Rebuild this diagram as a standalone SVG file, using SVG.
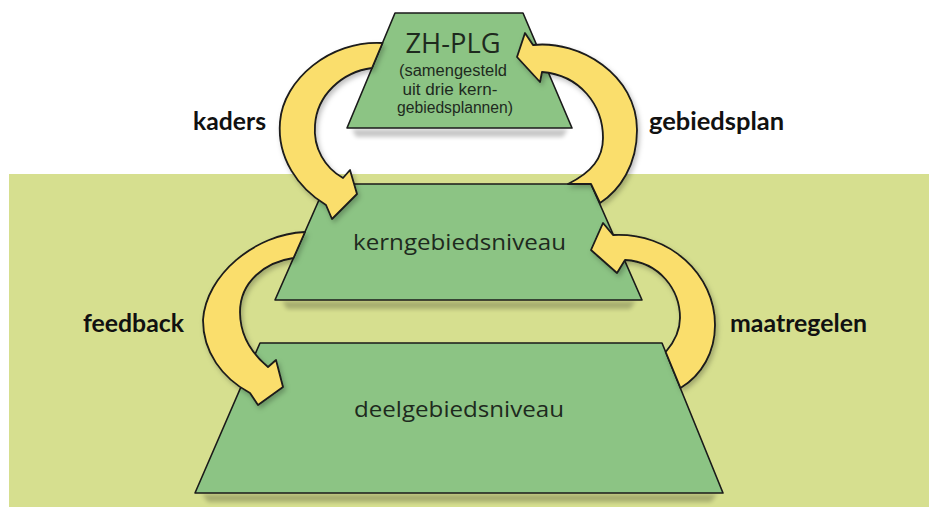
<svg xmlns="http://www.w3.org/2000/svg" width="929" height="507" viewBox="0 0 929 507">
  <defs>
    <filter id="blur" x="-20%" y="-50%" width="140%" height="200%">
      <feGaussianBlur stdDeviation="2"/>
    </filter>
    <filter id="ashadow" x="-20%" y="-20%" width="140%" height="140%">
      <feDropShadow dx="2" dy="3" stdDeviation="2.5" flood-color="#000" flood-opacity="0.25"/>
    </filter>
  </defs>
  <style>
    .trap { fill: #8cc484; stroke: #1a1a1a; stroke-width: 1.6; stroke-linejoin: round; }
    .shadow { fill: #000; opacity: 0.22; filter: url(#blur); }
    .arrow { fill: #fade6c; stroke: #1a1a1a; stroke-width: 1.8; stroke-linejoin: round; filter: url(#ashadow); }
    .lvl { font-family: "Open Sans", "DejaVu Sans", sans-serif; fill: #1e2a1e; text-anchor: middle; }
    .sub { font-family: "Liberation Sans", Arial, sans-serif; font-size: 16px; fill: #1e2a1e; text-anchor: middle; }
    .lbl { font-family: Lato, "Open Sans", sans-serif; font-weight: bold; font-size: 25px; fill: #111; }
  </style>

  <rect width="929" height="507" fill="#ffffff"/>
  <rect x="9" y="174" width="920" height="333" fill="#d6df8f"/>

  <g id="node-zhplg">
    <polygon class="shadow" points="352,129 568,129 563,137 356,137"/>
    <polygon class="trap" points="395,13 523,13 572,128 347,128"/>
    <text class="lvl" x="453" y="53" font-size="28" textLength="95" lengthAdjust="spacingAndGlyphs">ZH-PLG</text>
    <text class="sub" x="453" y="76" textLength="108" lengthAdjust="spacingAndGlyphs">(samengesteld</text>
    <text class="sub" x="450" y="94.5" textLength="95" lengthAdjust="spacingAndGlyphs">uit drie kern-</text>
    <text class="sub" x="455" y="113" textLength="116" lengthAdjust="spacingAndGlyphs">gebiedsplannen)</text>
  </g>

  <g id="node-kern">
    <polygon class="shadow" points="282,301 636,301 630,309 287,309"/>
    <polygon class="trap" points="326,184 591,184 642,300 275,300"/>
    <text class="lvl" x="459.5" y="250" font-size="22.5" textLength="213" lengthAdjust="spacingAndGlyphs">kerngebiedsniveau</text>
  </g>

  <g id="node-deel">
    <polygon class="shadow" points="202,494 717,494 711,502 208,502"/>
    <polygon class="trap" points="260,343 662,343 723,493 195,493"/>
    <text class="lvl" x="459" y="417" font-size="22.5" textLength="210" lengthAdjust="spacingAndGlyphs">deelgebiedsniveau</text>
  </g>

  <g id="connectors">
    <path id="arrow-kaders" class="arrow" d="M 382.5,43 C 330,40 283,80 280,122 C 277,158 298,188 326,205 L 332,219 L 357,194 L 350,170 L 343,178 C 325,168 313,148 315,125 C 317,95 342,72 372,68 Z"/>
    <path id="arrow-gebiedsplan" class="arrow" d="M 517,57 L 525,33 L 533,45 C 580,40 637,75 637,130 C 637,165 620,190 600,203 L 591,184 L 568,184 C 592,172 603,158 603,138 C 603,105 580,75 542,72 L 540,82 Z"/>
    <path id="arrow-feedback" class="arrow" d="M 305,232 C 255,234 206,275 203,320 C 203,352 222,378 250,393 L 258,405 L 283,387 L 276,360 L 268,367 C 250,352 240,333 240,312 C 240,282 265,262 293.5,258 Z"/>
    <path id="arrow-maatregelen" class="arrow" d="M 591,250 L 603,223 L 613,235 C 670,232 715,275 715,325 C 715,352 702,375 680.5,388 L 665.7,352 C 676,340 680,330 680,318 C 680,290 660,262 625,260 L 617,273 Z"/>
    <text class="lbl" x="193" y="130" textLength="73" lengthAdjust="spacingAndGlyphs">kaders</text>
    <text class="lbl" x="649" y="130" textLength="135" lengthAdjust="spacingAndGlyphs">gebiedsplan</text>
    <text class="lbl" x="83" y="332" textLength="101" lengthAdjust="spacingAndGlyphs">feedback</text>
    <text class="lbl" x="730" y="332" textLength="137" lengthAdjust="spacingAndGlyphs">maatregelen</text>
  </g>
</svg>
